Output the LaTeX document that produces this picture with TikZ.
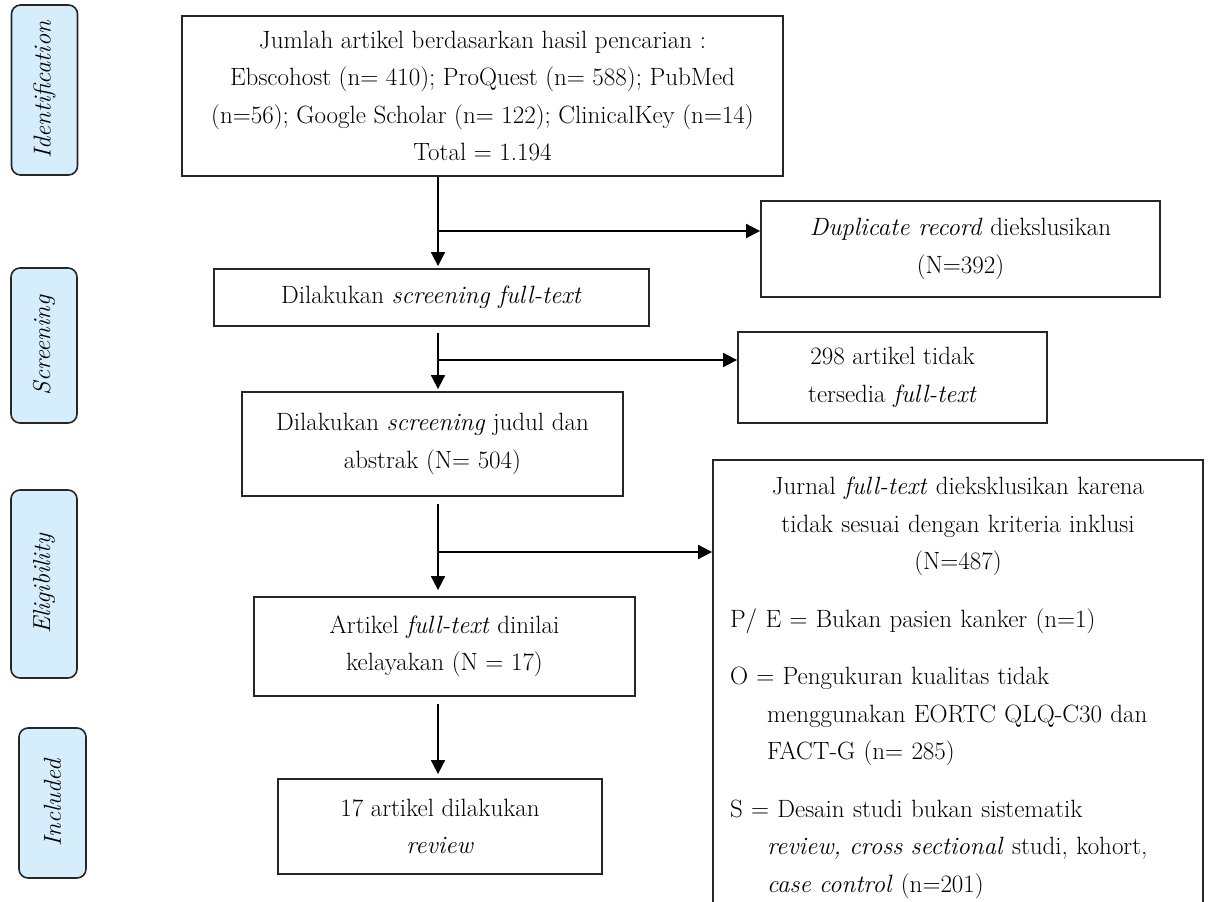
\documentclass[tikz,border=0pt]{standalone}
\usepackage{tikz}
\usetikzlibrary{arrows.meta,positioning}
\definecolor{stagefill}{HTML}{D6EEFC}
\newcommand{\flowfont}{\fontsize{25pt}{37.5pt}\selectfont}
\newcommand{\stagefont}{\fontsize{24.5pt}{28pt}\selectfont\itshape}
\tikzset{
  blk/.style={draw=black!85, rectangle, line width=1.8pt, align=center, font=\flowfont, inner sep=1pt},
  stage/.style={draw=black!85, rectangle, rounded corners=9pt, fill=stagefill, line width=1.6pt, rotate=90, font=\stagefont, inner sep=1pt},
  arr/.style={-{Triangle[length=14pt, width=14pt]}, line width=1.8pt},
}
\begin{document}
\begin{tikzpicture}[node distance=0.5cm]
\useasboundingbox (0,0) rectangle (1210pt,-902pt);

% stage labels on the left
\node[stage, minimum width=170pt, minimum height=66pt] (identif) at (44.5pt,-90pt) {Identification};
\node[stage, minimum width=155pt, minimum height=66pt] (screen) at (44pt,-345.5pt) {Screening};
\node[stage, minimum width=188pt, minimum height=66pt] (eligib) at (44pt,-584pt) {Eligibility};
\node[stage, minimum width=150pt, minimum height=67pt] (incl) at (52.5pt,-803pt) {Included};

% main column
\node[blk, minimum width=601pt, minimum height=160pt] (search) at (482.5pt,-96pt)
  {Jumlah artikel berdasarkan hasil pencarian :\\
   Ebscohost (n= 410); ProQuest (n= 588); PubMed\\
   (n=56); Google Scholar (n= 122); ClinicalKey (n=14)\\
   Total = 1.194};
\node[blk, below=91.2pt of search, xshift=-51pt, minimum width=435pt, minimum height=57pt] (fulltext)
  {Dilakukan \textit{screening full-text}};
\node[blk, below=64.2pt of fulltext, xshift=1pt, minimum width=381pt, minimum height=104pt] (abstract)
  {Dilakukan \textit{screening} judul dan\\ abstrak (N= 504)};
\node[blk, below=99.2pt of abstract, xshift=12pt, minimum width=381pt, minimum height=99pt] (assess)
  {Artikel \textit{full-text} dinilai\\ kelayakan (N = 17)};
\node[blk, below=81.2pt of assess, xshift=-4.5pt, minimum width=324pt, minimum height=95pt] (review)
  {17 artikel dilakukan\\ \textit{review}};

% excluded records on the right
\node[blk, minimum width=399pt, minimum height=96pt] (dup) at (960.5pt,-249pt)
  {\textit{Duplicate record} diekslusikan\\ (N=392)};
\node[blk, minimum width=309pt, minimum height=91pt] (notavail) at (892.5pt,-377.5pt)
  {298 artikel tidak\\ tersedia \textit{full-text}};
\node[blk, anchor=north, text width=456pt, align=left, inner xsep=17pt, inner ysep=17pt] (excl) at (958pt,-459pt)
  {\setlength{\parindent}{0pt}%
   {\centering Jurnal \textit{full-text} dieksklusikan karena\\
    tidak sesuai dengan kriteria inklusi\\
    (N=487)\par}
   \vspace{20pt}
   P/ E = Bukan pasien kanker (n=1)\par
   \vspace{20pt}
   O = Pengukuran kualitas tidak\\
   \hspace*{37pt}menggunakan EORTC QLQ-C30 dan\\
   \hspace*{37pt}FACT-G (n= 285)\par
   \vspace{20pt}
   S = Desain studi bukan sistematik\\
   \hspace*{37pt}\textit{review, cross sectional} studi, kohort,\\
   \hspace*{37pt}\textit{case control} (n=201)\par
   \vspace*{80pt}};

% branch points on the spine
\coordinate (spine) at (438pt,0);
\coordinate (br1) at (438pt,-231pt);
\coordinate (br2) at (438pt,-360pt);
\coordinate (br3) at (438pt,-552pt);

\draw[arr, shorten >=2pt] (search.south -| spine) -- (fulltext.north -| spine);
\draw[arr] (br1) -- (br1 -| dup.west);
\draw[arr, shorten <=6pt, shorten >=2pt] (fulltext.south -| spine) -- (abstract.north -| spine);
\draw[arr] (br2) -- (br2 -| notavail.west);
\draw[arr, shorten <=7pt, shorten >=6pt] (abstract.south -| spine) -- (assess.north -| spine);
\draw[arr] (br3) -- (br3 -| excl.west);
\draw[arr, shorten <=7pt, shorten >=4pt] (assess.south -| spine) -- (review.north -| spine);

\end{tikzpicture}
\end{document}
